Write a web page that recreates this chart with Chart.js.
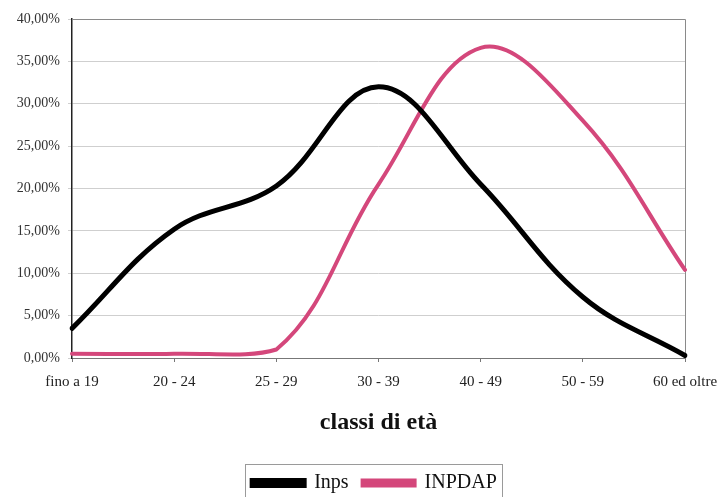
<!DOCTYPE html>
<html>
<head>
<meta charset="utf-8">
<script src="https://cdn.jsdelivr.net/npm/chart.js@4.4.1/dist/chart.umd.min.js"></script>
<style>
html,body{margin:0;padding:0;background:#fff;}
#wrap{width:718px;height:497px;position:relative;}
</style>
</head>
<body>
<div id="wrap"><canvas id="c" width="718" height="497"></canvas></div>
<script>
const categories = ['fino a 19', '20 - 24', '25 - 29', '30 - 39', '40 - 49', '50 - 59', '60 ed oltre'];
const inpsValues = [3.5, 15.2, 20.3, 32.0, 20.5, 7.2, 0.3];
const inpdapValues = [0.5, 0.5, 1.0, 20.5, 36.6, 28.0, 10.4];
const seriesNames = ['Inps', 'INPDAP'];
const xTitle = 'classi di età';
const yMin = 0, yMax = 40, yStep = 5;

const SERIF = '"Liberation Serif", "Times New Roman", serif';

const frame = {
  id: 'frame',
  afterLayout(chart) {
    const lg = chart.legend;
    if (!lg) return;
    lg.left += 32; lg.right += 32;
    lg.top += 6; lg.bottom += 6;
  },
  beforeDatasetsDraw(chart) {
    const {ctx, chartArea: a} = chart;
    ctx.save();
    ctx.strokeStyle = '#8a8a8a';
    ctx.lineWidth = 1;
    ctx.beginPath();
    ctx.moveTo(a.left, a.top + 0.5);
    ctx.lineTo(a.right + 0.5, a.top + 0.5);
    ctx.lineTo(a.right + 0.5, a.bottom);
    ctx.stroke();
    ctx.restore();
  },
  afterDraw(chart) {
    const lg = chart.legend;
    if (!lg || !lg.legendHitBoxes || !lg.legendHitBoxes.length) return;
    const hb = lg.legendHitBoxes;
    const left = Math.min(...hb.map(h => h.left)) - 7;
    const right = Math.max(...hb.map(h => h.left + h.width)) + 5;
    const top = Math.min(...hb.map(h => h.top)) - 9;
    const bottom = Math.max(...hb.map(h => h.top + h.height)) + 4;
    const ctx = chart.ctx;
    ctx.save();
    ctx.strokeStyle = '#9a9a9a';
    ctx.lineWidth = 1;
    ctx.strokeRect(Math.round(left) + 0.5, Math.round(top) + 0.5, Math.round(right - left), Math.round(bottom - top));
    ctx.restore();
  }
};

new Chart(document.getElementById('c'), {
  type: 'line',
  data: {
    labels: categories,
    datasets: [
      { label: seriesNames[0], data: inpsValues, borderColor: '#000000', backgroundColor: '#000000',
        borderWidth: 5, tension: 0.38, pointRadius: 0, fill: false, borderCapStyle: 'round' },
      { label: seriesNames[1], data: inpdapValues, borderColor: '#d4477b', backgroundColor: '#d4477b',
        borderWidth: 4, tension: 0.38, pointRadius: 0, fill: false, borderCapStyle: 'round' }
    ]
  },
  options: {
    responsive: false,
    animation: false,
    devicePixelRatio: 1,
    layout: { padding: { top: 19, right: 33, left: 0, bottom: 0 } },
    plugins: {
      tooltip: { enabled: false },
      legend: {
        position: 'bottom',
        labels: {
          boxWidth: 52, boxHeight: 5, padding: 14,
          color: '#111',
          font: { family: SERIF, size: 20 }
        }
      }
    },
    scales: {
      x: {
        type: 'category',
        offset: false,
        grid: { display: true, drawOnChartArea: false, drawTicks: true, tickLength: 4, color: '#777' },
        border: { display: true, color: '#777', width: 1 },
        ticks: { color: '#222', font: { family: SERIF, size: 15 }, padding: 11, maxRotation: 0, autoSkip: false },
        title: { display: true, text: xTitle, color: '#111', font: { family: SERIF, size: 24, weight: 'bold' }, padding: { top: 10, bottom: 16 } },
        afterFit(s) { s.paddingLeft = 0; s.paddingRight = 0; s.height = 95; }
      },
      y: {
        min: yMin, max: yMax,
        grid: { color: '#cfcfcf', lineWidth: 1, tickLength: 4, drawTicks: true },
        border: { display: true, color: '#222', width: 1.5 },
        ticks: {
          stepSize: yStep, color: '#333', padding: 8,
          font: { family: SERIF, size: 14 },
          callback: v => v.toFixed(2).replace('.', ',') + '%'
        },
        afterFit(s) { s.width = 72; s.paddingTop = 0; s.paddingBottom = 0; }
      }
    }
  },
  plugins: [frame]
});
</script>
</body>
</html>
